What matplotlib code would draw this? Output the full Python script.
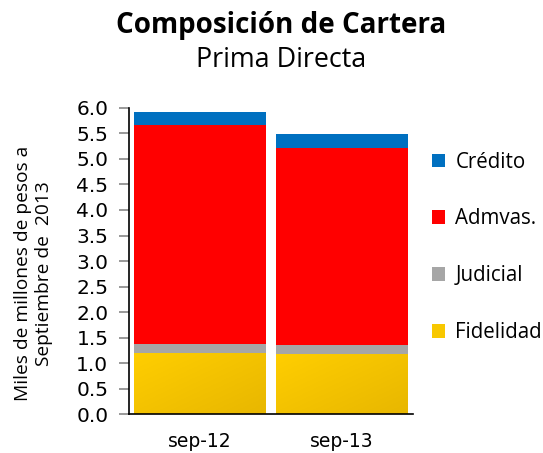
import matplotlib
matplotlib.use("Agg")
import matplotlib.pyplot as plt
import numpy as np
from matplotlib.colors import LinearSegmentedColormap

categories = ["sep-12", "sep-13"]
series_names = ["Fidelidad", "Judicial", "Admvas.", "Crédito"]
fidelidad = [1.20, 1.18]
judicial = [0.18, 0.18]
admvas = [4.28, 3.85]
credito = [0.26, 0.275]
colors = ["#F8C800", "#A6A6A6", "#FF0000", "#0070C0"]

fig = plt.figure(figsize=(5.43, 4.53), dpi=100)
ax = fig.add_axes([0.238, 0.0854, 0.522, 0.6766])

x = np.arange(len(categories))
bottom = np.zeros(len(categories))
handles = []
for name, vals, c in zip(series_names, [fidelidad, judicial, admvas, credito], colors):
    b = ax.bar(x, vals, width=0.93, bottom=bottom, color=c, label=name, linewidth=0)
    handles.append(b)
    bottom += np.array(vals)

# subtle gradient on the yellow segments (light top-left, darker bottom-right)
cmap = LinearSegmentedColormap.from_list("yel", ["#FFCE00", "#E8B700"])
grad = np.add.outer(np.linspace(0, 1, 50), np.linspace(0, 1, 50)) / 2.0
for patch in handles[0].patches:
    x0, y0 = patch.get_x(), patch.get_y()
    w, h = patch.get_width(), patch.get_height()
    im = ax.imshow(grad, cmap=cmap, extent=(x0, x0 + w, y0, y0 + h), aspect="auto",
                   origin="upper", zorder=patch.get_zorder() + 0.01)
    im.set_clip_path(patch)

ax.set_xlim(-0.5, 1.5)
ax.set_ylim(0, 6.0)
yt = np.arange(0, 6.01, 0.5)
ax.set_yticks(yt)
ax.set_yticklabels([f"{v:.1f}" for v in yt], fontsize=14.5, family="DejaVu Sans")
ax.set_xticks(x)
ax.set_xticklabels(categories, fontsize=13.5, family="DejaVu Sans")
ax.tick_params(axis="x", length=0, pad=13)
ax.tick_params(axis="y", length=7, color="#888888", width=1.2, pad=8)
for s in ["top", "right"]:
    ax.spines[s].set_visible(False)
ax.spines["left"].set_linewidth(1.2)
ax.spines["bottom"].set_linewidth(1.2)

fig.text(0.061, 0.397, "Miles de millones de pesos a\nSeptiembre de  2013", rotation=90,
         ha="center", va="center", multialignment="center", fontsize=13.8,
         family="Open Sans", linespacing=1.2)

leg = fig.legend(handles[::-1], series_names[::-1], loc="center left",
                 bbox_to_anchor=(0.761, 0.454), frameon=False,
                 prop={"family": "Open Sans", "size": 14.8},
                 handlelength=0.65, handleheight=0.65, handletextpad=0.5,
                 labelspacing=1.74)

fig.text(0.517, 0.927, "Composición de Cartera", ha="center", va="baseline",
         fontsize=20, fontweight="bold", family="Open Sans")
fig.text(0.517, 0.852, "Prima Directa", ha="center", va="baseline",
         fontsize=19.4, family="Open Sans")

fig.savefig("out.png", dpi=100)
